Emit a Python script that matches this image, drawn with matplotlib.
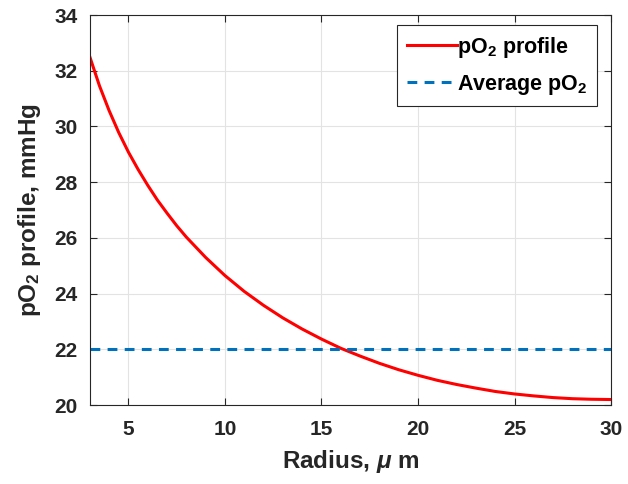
import matplotlib
matplotlib.use('Agg')
import matplotlib.pyplot as plt

# radius (um) and pO2 (mmHg)
radius = [3, 3.5, 4, 4.5, 5, 5.5, 6, 6.5, 7, 7.5, 8, 9, 10, 11, 12, 13, 14,
          15, 16, 17, 18, 19, 20, 21, 22, 23, 24, 25, 26, 27, 28, 29, 30]
po2 = [32.50, 31.46, 30.57, 29.78, 29.08, 28.46, 27.89, 27.36, 26.89, 26.44,
       26.03, 25.30, 24.65, 24.08, 23.58, 23.13, 22.73, 22.37, 22.04, 21.76,
       21.50, 21.27, 21.07, 20.89, 20.74, 20.61, 20.49, 20.40, 20.33, 20.27,
       20.23, 20.21, 20.20]
avg_po2 = 22.0

xticks = [5, 10, 15, 20, 25, 30]
yticks = [20, 22, 24, 26, 28, 30, 32, 34]

plt.rcParams['font.family'] = ['Liberation Sans', 'DejaVu Sans']
plt.rcParams['font.weight'] = 'bold'
plt.rcParams['mathtext.fontset'] = 'custom'
plt.rcParams['mathtext.bf'] = 'Liberation Sans:bold'
plt.rcParams['mathtext.it'] = 'Liberation Sans:italic'
plt.rcParams['mathtext.rm'] = 'Liberation Sans:bold'
plt.rcParams['mathtext.default'] = 'bf'

fig = plt.figure(figsize=(6.28, 4.84), dpi=100)
ax = fig.add_axes([0.143, 0.163, 0.830, 0.806])

ax.plot(radius, po2, color='#ff0000', lw=2.2, label=r'pO$_2$ profile')
ax.plot([radius[0], radius[-1]], [avg_po2, avg_po2], color='#0072bd',
        lw=2.2, ls=(0, (3.2, 2.4)), label=r'Average pO$_2$')

ax.set_xlim(3, 30)
ax.set_ylim(20, 34)
ax.set_xticks(xticks)
ax.set_yticks(yticks)
ax.grid(True, color='#e3e3e3', lw=0.8)
ax.set_axisbelow(True)

ax.tick_params(direction='in', length=5, width=0.8, top=True, right=True,
               labelsize=15, colors='#262626')
ax.tick_params(axis='x', pad=11)
ax.tick_params(axis='y', pad=9)
for s in ax.spines.values():
    s.set_color('#262626')
    s.set_linewidth(0.8)

ax.set_xlabel(r'Radius, $\mathit{\mu}$ m', fontsize=17.5, fontweight='bold',
              color='#262626', labelpad=6)
ax.set_ylabel(r'pO$_2$ profile, mmHg', fontsize=17.5, fontweight='bold',
              color='#262626', labelpad=8)

leg = ax.legend(loc='upper right', fontsize=15.5, handlelength=2.3,
                handletextpad=0.0, borderpad=0.45, labelspacing=0.6,
                fancybox=False, edgecolor='#262626', framealpha=1,
                borderaxespad=0, bbox_to_anchor=(0.973, 0.974))
leg.get_frame().set_linewidth(0.8)

fig.savefig('out.png', dpi=100)
